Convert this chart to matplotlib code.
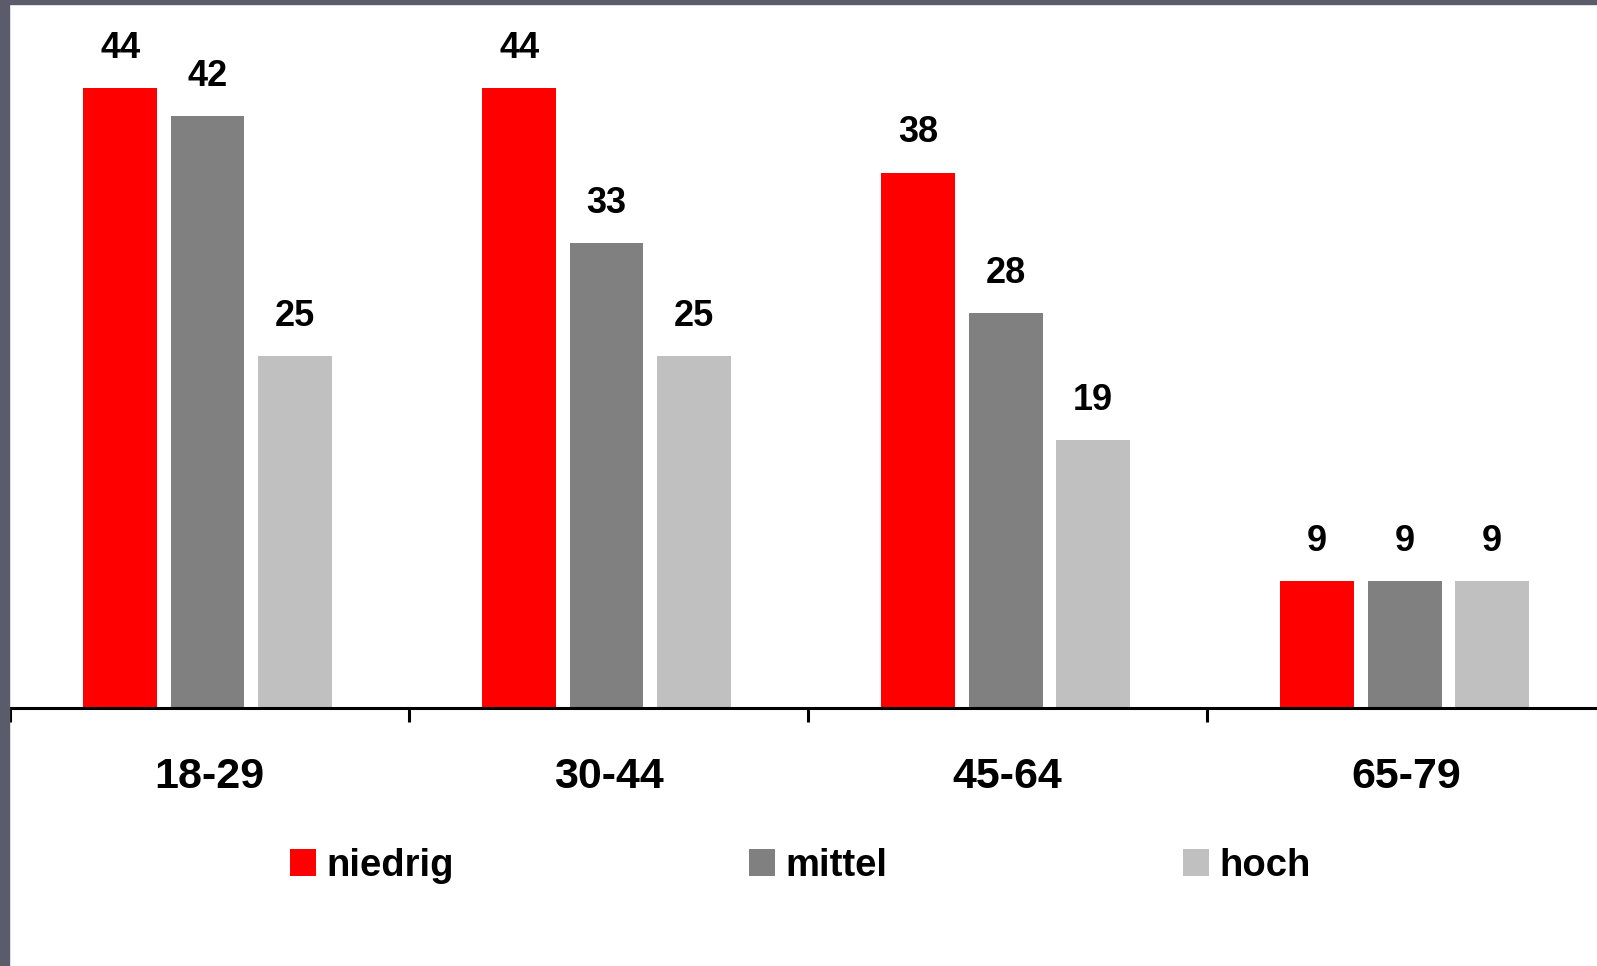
import matplotlib
matplotlib.use("Agg")
import matplotlib.pyplot as plt
from matplotlib.patches import Rectangle
import numpy as np

plt.rcParams['font.family'] = ['Liberation Sans', 'DejaVu Sans']

age_groups = ["18-29", "30-44", "45-64", "65-79"]
series_names = ["niedrig", "mittel", "hoch"]
niedrig = [44, 44, 38, 9]
mittel = [42, 33, 28, 9]
hoch = [25, 25, 19, 9]
colors = ["#ff0000", "#808080", "#c0c0c0"]

W, H = 1597, 966
fig = plt.figure(figsize=(W / 100, H / 100), dpi=100)
fig.patch.set_facecolor("white")

ax = fig.add_axes([10 / W, (H - 708) / H, 1 - 10 / W, 708 / H])
x = np.arange(len(age_groups))
bar_w = 0.185
step = 0.219
for i, (vals, name, c) in enumerate(zip([niedrig, mittel, hoch], series_names, colors)):
    bars = ax.bar(x + (i - 1) * step - 0.005, vals, width=bar_w, color=c, label=name, zorder=2)
    ax.bar_label(bars, labels=[str(v) for v in vals], padding=16,
                 fontsize=26, fontweight='bold', color='black')

for s in ["top", "right", "left"]:
    ax.spines[s].set_visible(False)
ax.set_facecolor("none")
ax.spines["bottom"].set_linewidth(2.2)
ax.spines["bottom"].set_color("black")
ax.set_yticks([])

# Boundary ticks between categories, labels centred on categories
ax.set_xticks(np.arange(-0.5, 4.0, 1.0))
ax.set_xticklabels([])
ax.tick_params(axis='x', which='major', length=10, width=2.2, direction='out', color='black')
ax.set_xticks(x, minor=True)
ax.set_xticklabels(age_groups, minor=True, fontsize=31, fontweight='bold')
ax.tick_params(axis='x', which='minor', length=0, pad=35)

ax.set_xlim(-0.5, 3.477)
ax.set_ylim(0, 50.25)

fig.legend(loc='center left', bbox_to_anchor=(290 / W, 1 - 866 / H), ncol=3,
           frameon=False, borderaxespad=0, borderpad=0,
           prop={'size': 27.5, 'weight': 'bold'},
           handlelength=0.68, handleheight=0.73, handletextpad=0.28,
           columnspacing=7.72)

# Dark frame along top and left edges
border = "#5a5c6c"
fig.patches.append(Rectangle((0, 0), 9 / W, 1, transform=fig.transFigure,
                             color=border, zorder=10))
fig.patches.append(Rectangle((0, 1 - 4 / H), 1, 4 / H, transform=fig.transFigure,
                             color=border, zorder=10))

fig.savefig("out.png", dpi=100)
